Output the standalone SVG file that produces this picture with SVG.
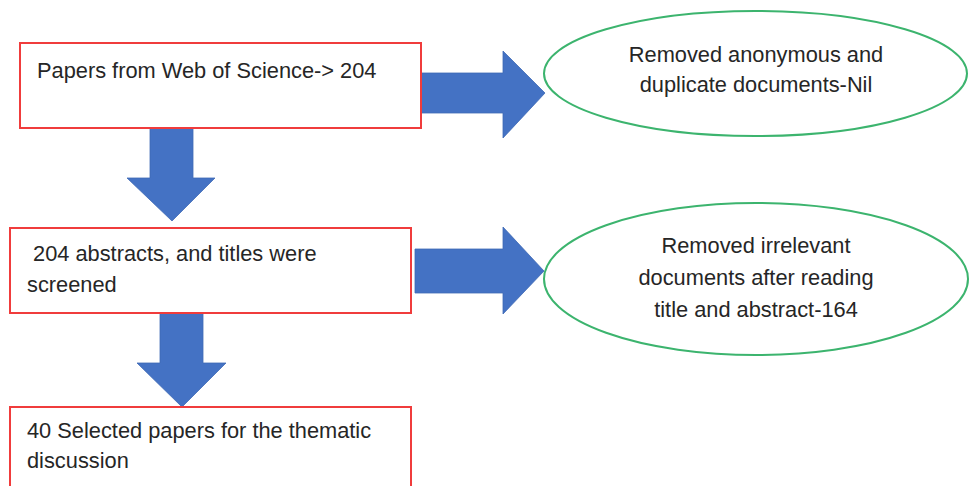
<svg xmlns="http://www.w3.org/2000/svg" width="969" height="486" viewBox="0 0 969 486">
<style>
.box{fill:#fff;stroke:#f03c3c;stroke-width:2}
.ell{fill:#fff;stroke:#3cb46e;stroke-width:2}
.arr{fill:#4472c4;stroke:#3f69b5;stroke-width:0.8}
text{font-family:"Liberation Sans",Arial,sans-serif;font-size:21.8px;fill:#262626}
.c{text-anchor:middle}
</style>
<rect width="969" height="486" fill="#fff"/>
<g id="connectors">
<polygon class="arr" points="421,73 503,73 503,51 545,93 503,138 503,113 421,113"/>
<polygon class="arr" points="415,249 503,249 503,227 544,271 503,314 503,293 415,293"/>
<polygon class="arr" points="150,128 193,128 193,178 215,178 172,221 127,178 150,178"/>
<polygon class="arr" points="160,313 203,313 203,363 226,363 182,407 137,363 160,363"/>
</g>
<g id="n1"><rect class="box" x="20" y="43" width="401" height="85"/>
<text x="37" y="78">Papers from Web of Science-&gt; 204</text></g>
<g id="n2"><rect class="box" x="10" y="228" width="401" height="85"/>
<text x="27" y="261" xml:space="preserve"> 204 abstracts, and titles were</text>
<text x="27" y="292">screened</text></g>
<g id="n3"><rect class="box" x="10" y="407" width="401" height="100"/>
<text x="27" y="438">40 Selected papers for the thematic</text>
<text x="27" y="468">discussion</text></g>
<g id="e1"><ellipse class="ell" cx="755.5" cy="73.5" rx="211.5" ry="62.5"/>
<text class="c" x="756" y="62">Removed anonymous and</text>
<text class="c" x="756" y="92">duplicate documents-Nil</text></g>
<g id="e2"><ellipse class="ell" cx="756" cy="279" rx="212" ry="76"/>
<text class="c" x="756" y="253">Removed irrelevant</text>
<text class="c" x="756" y="285">documents after reading</text>
<text class="c" x="756" y="317">title and abstract-164</text></g>
</svg>
